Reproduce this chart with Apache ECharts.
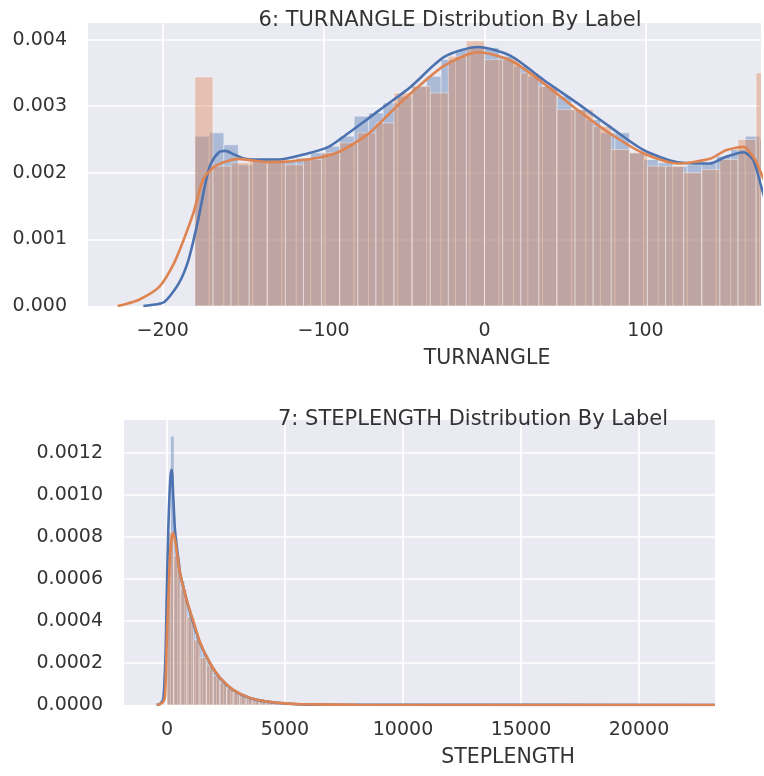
<!DOCTYPE html>
<html>
<head>
<meta charset="utf-8">
<script src="https://cdn.jsdelivr.net/npm/echarts@6/dist/echarts.min.js"></script>
<style>
  html, body { margin: 0; padding: 0; background: #fff; }
  #chart { width: 764px; height: 776px; }
</style>
</head>
<body>
<div id="chart"></div>
<script>
// chart 6: TURNANGLE - histogram bins (degrees) and densities
var turnBlueStart = -180, turnBlueWidth = 9;
var turnBlueHist = [0.00255, 0.0026, 0.00242, 0.00212, 0.0022, 0.0022, 0.00218, 0.00222, 0.0023, 0.0024,
  0.00255, 0.00285, 0.0029, 0.00305, 0.00315, 0.0033, 0.00345, 0.0037, 0.00385, 0.0039,
  0.00388, 0.00375, 0.0036, 0.00345, 0.0033, 0.00315, 0.00295, 0.0028, 0.0026, 0.0026,
  0.0023, 0.0022, 0.00215, 0.0021, 0.00212, 0.00215, 0.00225, 0.00235, 0.00255, 0.0025];
var turnOrangeStart = -180, turnOrangeWidth = 11.25;
var turnOrangeHist = [0.00344, 0.0021, 0.00215, 0.0022, 0.00218, 0.00212, 0.0022, 0.0023, 0.00245, 0.0026,
  0.00275, 0.0032, 0.0033, 0.0032, 0.00375, 0.00398, 0.0037, 0.0037, 0.0035, 0.0033,
  0.00295, 0.00295, 0.0027, 0.00235, 0.0023, 0.0021, 0.0021, 0.002, 0.00205, 0.0022,
  0.0025, 0.0035];
var turnBlueKdeX = [-212, -208, -199, -190, -184, -178, -173, -170, -165, -161, -156, -150, -144, -128, -110, -97, -85, -72, -66,
  -46, -25, -4, 16, 37, 58, 78, 99, 120, 140, 150, 161, 167, 172, 176];
var turnBlueKdeY = [0, 0.00001, 0.00006, 0.00034, 0.00069, 0.00129, 0.00189, 0.00214, 0.00231, 0.00233, 0.00228, 0.00222, 0.0022, 0.0022, 0.00229, 0.00239, 0.00259, 0.00282, 0.00293,
  0.00329, 0.00374, 0.00389, 0.00376, 0.00339, 0.00304, 0.00269, 0.00234, 0.00216, 0.00214, 0.00224, 0.00231, 0.00219, 0.00179, 0.00145];
var turnOrangeKdeX = [-228, -226, -215, -202, -193, -187, -181, -175, -168, -162, -153, -134, -110, -91, -72, -57,
  -46, -25, -4, 16, 37, 58, 78, 99, 120, 140, 150, 161, 168, 172, 176];
var turnOrangeKdeY = [0, 0.00001, 0.00009, 0.00029, 0.00064, 0.00099, 0.00139, 0.00189, 0.00209, 0.00216, 0.00221, 0.00216, 0.0022, 0.00231, 0.00259, 0.00294,
  0.00319, 0.00361, 0.00381, 0.00369, 0.00334, 0.00294, 0.00259, 0.00229, 0.00214, 0.00221, 0.00234, 0.00239, 0.0022, 0.00199, 0.00175];

// chart 7: STEPLENGTH
var stepBlueStart = 0, stepBlueWidth = 150;
var stepBlueHist = [0.00056, 0.00128, 0.0008, 0.00068, 0.00059, 0.00051, 0.00044, 0.00038, 0.00033, 0.00029,
  0.00025, 0.000215, 0.00019, 0.00016, 0.000135, 0.000115, 0.0001, 0.000085, 0.000075, 0.000062,
  0.000052, 0.000045, 0.000038, 0.00003, 0.000026, 0.000021, 0.000017, 0.000014, 0.000011, 0.000009,
  0.000007, 0.000006, 0.000005, 0.000004];
var stepOrangeStart = 0, stepOrangeWidth = 280;
var stepOrangeHist = [0.00082, 0.00071, 0.00055, 0.00042, 0.00031, 0.000225, 0.00019, 0.00014, 0.000105, 0.00008,
  0.00006, 0.000045, 0.000033, 0.000025, 0.000018, 0.000013, 0.00001, 0.000007, 0.000005, 0.000004,
  0.000003, 0.000002];
var stepBlueKdeX = [-440, -300, -155, -60, -14, 50, 98, 150, 199, 270, 340, 450, 550, 833, 1115, 1397, 1820, 2244, 2808, 3514, 4220, 4925, 5630, 8000, 23220];
var stepBlueKdeY = [0, 0.000005, 0.00003, 0.00025, 0.0005, 0.00082, 0.00098, 0.00109, 0.00112, 0.00098, 0.00083, 0.00072, 0.00063, 0.0005, 0.00039, 0.000295, 0.0002, 0.000128, 0.000071, 0.000033, 0.000016, 0.000008, 0.000003, 0.000001, 0];
var stepOrangeKdeX = [-430, -200, -85, 0, 56, 130, 200, 267, 350, 450, 550, 833, 1115, 1397, 1820, 2244, 2808, 3514, 4220, 4925, 5630, 8000, 23220];
var stepOrangeKdeY = [0, 0.00001, 0.00004, 0.00035, 0.0005, 0.00072, 0.0008, 0.00082, 0.00078, 0.0007, 0.00063, 0.0005, 0.0004, 0.0003, 0.0002, 0.00013, 0.000072, 0.000034, 0.000017, 0.000009, 0.000004, 0.000001, 0];

var blue = '#4C72B0', orange = '#DD8452', textColor = '#333', bg = '#EAEAF2';
var font = 'DejaVu Sans';

function binData(start, width, vals) {
  return vals.map(function (v, i) { return [start + width * i, start + width * (i + 1), v]; });
}
function pairs(xs, ys) {
  return xs.map(function (x, i) { return [x, ys[i]]; });
}
function histRender(color) {
  return function (params, api) {
    var p0 = api.coord([api.value(0), api.value(2)]);
    var p1 = api.coord([api.value(1), 0]);
    return {
      type: 'rect',
      shape: { x: p0[0], y: p0[1], width: p1[0] - p0[0], height: p1[1] - p0[1] },
      style: { fill: color, stroke: '#fff', lineWidth: 1, opacity: 0.4 }
    };
  };
}
function histSeries(idx, color, start, width, vals) {
  return {
    type: 'custom', xAxisIndex: idx, yAxisIndex: idx, clip: true,
    renderItem: histRender(color), encode: { x: [0, 1], y: 2 },
    data: binData(start, width, vals), silent: true
  };
}
function kdeSeries(idx, color, xs, ys) {
  return {
    type: 'line', xAxisIndex: idx, yAxisIndex: idx, clip: true, smooth: 0.25,
    showSymbol: false, lineStyle: { color: color, width: 2.6 }, itemStyle: { color: color },
    data: pairs(xs, ys), silent: true
  };
}
function mult(v, step) {
  return Math.abs(v / step - Math.round(v / step)) < 1e-6;
}
var gridLine = { showMinLine: false, showMaxLine: false, lineStyle: { color: '#fff', width: 1.6 } };

var myChart = echarts.init(document.getElementById('chart'));
var option = {
  animation: false,
  backgroundColor: '#fff',
  grid: [
    { left: 88, top: 23, width: 676, height: 283, show: true, backgroundColor: bg, borderWidth: 0 },
    { left: 124, top: 420, width: 591, height: 285, show: true, backgroundColor: bg, borderWidth: 0 }
  ],
  xAxis: [
    { type: 'value', gridIndex: 0, min: -246.4, max: 171.8, splitNumber: 4,
      axisLine: { show: false }, axisTick: { show: false }, splitLine: gridLine,
      axisLabel: { color: textColor, fontFamily: font, fontSize: 19, margin: 16,
        formatter: function (v) { return mult(v, 100) ? (v < 0 ? '\u2212' + (-v) : '' + v) : ''; } } },
    { type: 'value', gridIndex: 1, min: -1822, max: 23220, splitNumber: 5,
      axisLine: { show: false }, axisTick: { show: false }, splitLine: gridLine,
      axisLabel: { color: textColor, fontFamily: font, fontSize: 19, margin: 16,
        formatter: function (v) { return mult(v, 5000) ? '' + v : ''; } } }
  ],
  yAxis: [
    { type: 'value', gridIndex: 0, min: 0, max: 0.00425, interval: 0.001,
      axisLine: { show: false }, axisTick: { show: false }, splitLine: gridLine,
      axisLabel: { color: textColor, fontFamily: font, fontSize: 19, margin: 21,
        formatter: function (v) { return mult(v, 0.001) ? v.toFixed(3) : ''; } } },
    { type: 'value', gridIndex: 1, min: 0, max: 0.001357, interval: 0.0002,
      axisLine: { show: false }, axisTick: { show: false }, splitLine: gridLine,
      axisLabel: { color: textColor, fontFamily: font, fontSize: 19, margin: 21,
        formatter: function (v) { return mult(v, 0.0002) ? v.toFixed(4) : ''; } } }
  ],
  graphic: [
    { type: 'text', x: 450, y: 21, z: 100, style: { text: '6: TURNANGLE Distribution By Label', fill: textColor,
      font: '21px "DejaVu Sans"', textAlign: 'center', textVerticalAlign: 'middle' } },
    { type: 'text', x: 487, y: 359, z: 100, style: { text: 'TURNANGLE', fill: textColor,
      font: '20.5px "DejaVu Sans"', textAlign: 'center', textVerticalAlign: 'middle' } },
    { type: 'text', x: 473, y: 420, z: 100, style: { text: '7: STEPLENGTH Distribution By Label', fill: textColor,
      font: '21px "DejaVu Sans"', textAlign: 'center', textVerticalAlign: 'middle' } },
    { type: 'text', x: 508, y: 758, z: 100, style: { text: 'STEPLENGTH', fill: textColor,
      font: '20.5px "DejaVu Sans"', textAlign: 'center', textVerticalAlign: 'middle' } }
  ],
  series: [
    histSeries(0, blue, turnBlueStart, turnBlueWidth, turnBlueHist),
    kdeSeries(0, blue, turnBlueKdeX, turnBlueKdeY),
    histSeries(0, orange, turnOrangeStart, turnOrangeWidth, turnOrangeHist),
    kdeSeries(0, orange, turnOrangeKdeX, turnOrangeKdeY),
    histSeries(1, blue, stepBlueStart, stepBlueWidth, stepBlueHist),
    kdeSeries(1, blue, stepBlueKdeX, stepBlueKdeY),
    histSeries(1, orange, stepOrangeStart, stepOrangeWidth, stepOrangeHist),
    kdeSeries(1, orange, stepOrangeKdeX, stepOrangeKdeY)
  ]
};
myChart.setOption(option);
</script>
</body>
</html>
